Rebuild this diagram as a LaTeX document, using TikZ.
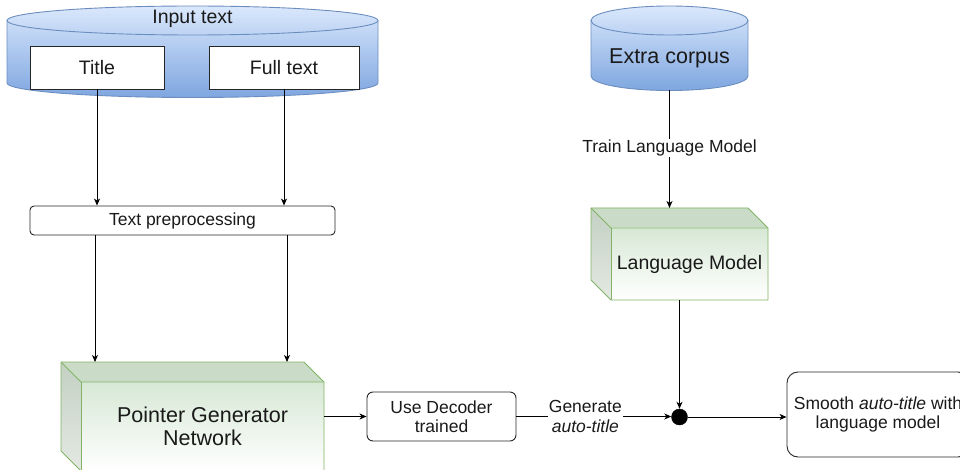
\documentclass[tikz,border=0pt]{standalone}
\usepackage{fontspec}
\setmainfont{Liberation Sans}
\usetikzlibrary{arrows.meta,calc}
\definecolor{cylTop}{HTML}{DAE8FC}
\definecolor{cylBot}{HTML}{7EA6E0}
\definecolor{cylLine}{HTML}{6C8EBF}
\definecolor{grLine}{HTML}{82B366}
\definecolor{grFront}{HTML}{D7E8D5}
\definecolor{grTop}{HTML}{CADCC7}
\definecolor{grSideTop}{HTML}{C3D0C2}
\definecolor{grSideBot}{HTML}{E4E9E3}
\definecolor{txt}{HTML}{1A1A1A}
\newcommand{\fsmall}{\fontsize{17.5}{19.5}\selectfont}
\newcommand{\fmid}{\fontsize{19.5}{21}\selectfont}
\newcommand{\fbig}{\fontsize{21.5}{23}\selectfont}
\tikzset{
  arr/.style={draw=black, line width=0.9pt, -{Stealth[length=7pt,width=6pt,inset=2pt]}},
  whitebox/.style={draw=black!85, fill=white, line width=0.9pt, inner sep=0pt, align=center, text=txt},
  roundbox/.style={whitebox, rounded corners=#1},
  lbl/.style={inner sep=1pt, align=center, text=txt},
  ghost/.style={inner sep=0pt, outer sep=0pt},
  cylline/.style={draw=cylLine, line width=0.9pt},
  grline/.style={draw=grLine, line width=0.9pt, line join=round},
}
\begin{document}
\begin{tikzpicture}[x=1pt,y=-1pt]
\useasboundingbox (0,0) rectangle (960,470);

% ---------- Input text cylinder ----------
\shade[top color=cylTop, bottom color=cylBot]
  (7,20.5) -- (7,83) arc[start angle=180,end angle=0,x radius=185.5,y radius=14.5]
  -- (378,20.5) arc[start angle=0,end angle=-180,x radius=185.5,y radius=14.5] -- cycle;
\draw[cylline]
  (7,20.5) -- (7,83) arc[start angle=180,end angle=0,x radius=185.5,y radius=14.5]
  -- (378,20.5);
\draw[cylline] (192.5,20.5) ellipse[x radius=185.5,y radius=14.5];
\node[lbl, font=\fmid] (inp) at (192.5,19) {Input text};

\node[whitebox, font=\fmid, minimum width=134pt, minimum height=43pt] (title) at (97,67.5) {Title};
\node[whitebox, font=\fmid, minimum width=150pt, minimum height=43pt] (full) at (284,67.5) {Full text};

% ---------- Extra corpus cylinder ----------
\shade[top color=cylTop, bottom color=cylBot]
  (591,20.5) -- (591,76) arc[start angle=180,end angle=0,x radius=78.5,y radius=14.5]
  -- (748,20.5) arc[start angle=0,end angle=-180,x radius=78.5,y radius=14.5] -- cycle;
\draw[cylline]
  (591,20.5) -- (591,76) arc[start angle=180,end angle=0,x radius=78.5,y radius=14.5]
  -- (748,20.5);
\draw[cylline] (669.5,20.5) ellipse[x radius=78.5,y radius=14.5];
\node[lbl, font=\fbig] (ec) at (669.5,58) {Extra corpus};
\coordinate (ecbot) at (669.5,90.5);

% ---------- Text preprocessing ----------
\node[roundbox=4pt, font=\fsmall, minimum width=305pt, minimum height=29pt] (pre) at (182.5,220.5) {Text preprocessing};

% ---------- Pointer Generator Network (3D box) ----------
\shade[top color=grSideTop, bottom color=grSideBot] (61,362) -- (81,382) -- (81,471) -- (61,451) -- cycle;
\fill[grTop] (61,362) -- (304,362) -- (324,382) -- (81,382) -- cycle;
\shade[top color=grFront, bottom color=white] (81,382) rectangle (324,471);
\draw[grline] (61,451) -- (61,362) -- (304,362) -- (324,382) -- (324,471);
\draw[grline] (61,362) -- (81,382) -- (324,382);
\draw[grline] (81,382) -- (81,471);
\draw[grline] (61,451) -- (81,471);
\node[ghost, minimum width=263pt, minimum height=108pt] (pgn) at (192.5,416) {};
\node[lbl, font=\fbig] (pgntxt) at (202.5,426.5) {Pointer Generator\\Network};

% ---------- Language Model (3D box) ----------
\shade[top color=grSideTop, bottom color=grSideBot] (591,208) -- (611,228) -- (611,300) -- (591,280) -- cycle;
\fill[grTop] (591,208) -- (748,208) -- (768,228) -- (611,228) -- cycle;
\shade[top color=grFront, bottom color=white] (611,228) rectangle (768,300);
\draw[grline] (611,300) -- (591,280) -- (591,208) -- (748,208) -- (768,228) -- (768,300) -- cycle;
\draw[grline] (591,208) -- (611,228) -- (768,228);
\draw[grline] (611,228) -- (611,300);
\node[ghost, minimum width=177pt, minimum height=92pt] (lm) at (679.5,254) {};
\node[lbl, font=\fmid] (lmtxt) at (689.5,264) {Language Model};

% ---------- Decoder, dot, smooth ----------
\node[roundbox=6pt, font=\fsmall, minimum width=149pt, minimum height=49pt] (dec) at (441.5,416.5) {Use Decoder\\trained};
\node[circle, fill=black, draw=black, inner sep=0pt, minimum size=16pt] (dot) at (679.5,417) {};
\node[roundbox=11pt, font=\fsmall, minimum width=182pt, minimum height=85pt] (sm) at (878,414.5) {Smooth \textit{auto-title} with\\language model};

% ---------- Connectors ----------
\draw[arr] (title.south) -- (title.south |- pre.north);
\draw[arr] (full.south) -- (full.south |- pre.north);
\draw[arr] (95,0 |- pre.south) -- (95,0 |- pgn.north);
\draw[arr] (287,0 |- pre.south) -- (287,0 |- pgn.north);
\draw[arr] (ecbot) -- (ecbot |- lm.north)
  node[pos=0.49, fill=white, lbl, font=\fsmall] (trainlbl) {Train Language Model};
\draw[arr] (lm.south) -- (dot.north);
\draw[arr] (dec.west -| pgn.east) -- (dec.west);
\draw[arr] (dec.east) -- (dec.east -| dot.west)
  node[pos=0.445, fill=white, lbl, font=\fsmall] (genlbl) {Generate\\\textit{auto-title}};
\draw[arr] (dot.east) -- (dot.east -| sm.west);
\end{tikzpicture}
\end{document}
